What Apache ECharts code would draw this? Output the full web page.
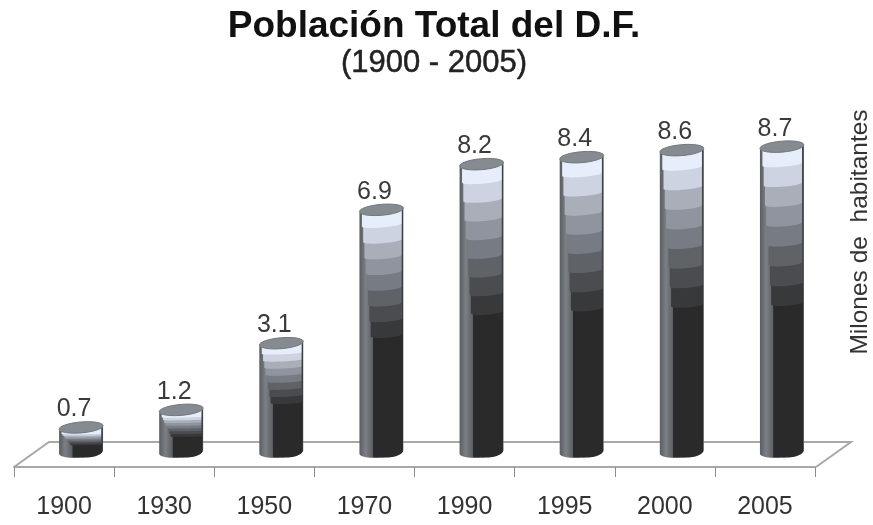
<!DOCTYPE html>
<html>
<head>
<meta charset="utf-8">
<style>html,body{margin:0;padding:0;background:#fff}#main{width:873px;height:525px}</style>
<script src="https://cdn.jsdelivr.net/npm/echarts@6/dist/echarts.min.js"></script>
</head>
<body>
<div id="main"></div>
<script>
var years = ['1900', '1930', '1950', '1970', '1990', '1995', '2000', '2005'];
var poblacion = [0.7, 1.2, 3.1, 6.9, 8.2, 8.4, 8.6, 8.7];
//franjas del cilindro, de la mas clara a la mas oscura
var bandas = ['#e6eefb', '#cdd3e0', '#a9aeb9', '#90949e', '#777b83', '#5f6267', '#4a4c50', '#38393b'];

var chart = echarts.init(document.getElementById('main'));

//puntos de un arco de elipse inclinada
function arco(cx, cy, rx, ry, a0, a1, incl) {
  var pts = [];
  for (var i = 0; i <= 24; i++) {
    var t = a0 + (a1 - a0) * i / 24;
    var c = Math.cos(t);
    pts.push([cx + rx * c, cy + ry * Math.sin(t) - rx * c * (incl === undefined ? 0.08 : incl)]);
  }
  return pts;
}

function cilindro(params, api) {
  var p = api.coord([api.value(0), api.value(1)]);
  var base = api.coord([api.value(0), 0]);
  //desplazamiento de la perspectiva respecto al eje
  var cx = p[0] + 17, top = p[1] - 15, bottom = base[1] - 15;
  var rx = 22, ry = 5.5, h = bottom - top;
  var children = [];

  //cuerpo con la franja gris de la izquierda
  children.push({
    type: 'polygon',
    shape: { points: arco(cx, top, rx, ry, Math.PI, 0).concat(arco(cx, bottom, rx, ry, 0, Math.PI)) },
    style: {
      fill: new echarts.graphic.LinearGradient(0, 0, 1, 0, [
        { offset: 0, color: '#5a5d61' },
        { offset: 0.14, color: '#7b8085' },
        { offset: 0.3, color: '#5c5f63' },
        { offset: 0.31, color: '#2b2b2b' },
        { offset: 0.93, color: '#2a2a2a' },
        { offset: 1, color: '#808488' }
      ])
    }
  });
  //parte negra
  children.push({
    type: 'polygon',
    shape: { points: arco(cx + 7, top, rx - 7.5, ry, Math.PI, 0).concat(arco(cx + 7, bottom, rx - 7.5, ry, 0, Math.PI)) },
    style: { fill: '#2a2a2a' }
  });
  //franjas, de abajo hacia arriba para que se tapen
  var sag = Math.min(2.5, h * 0.012);
  for (var i = bandas.length - 1; i >= 0; i--) {
    var y = top + ry + h * 0.04 + h * 0.065 * i;
    var izq = 2.5 + i * 1.25;
    var der = i < 6 ? 2 : 1;
    var w = (2 * rx - izq - der) / 2;
    var c = cx - rx + izq + w;
    children.push({
      type: 'polygon',
      shape: { points: arco(c, top, w, ry, Math.PI, 0).concat(arco(c, y, w, sag, 0, Math.PI, sag * 0.032)) },
      style: { fill: bandas[i] }
    });
  }
  //tapa
  children.push({
    type: 'polygon',
    shape: { points: arco(cx, top, rx, ry, 0, Math.PI * 2) },
    style: { fill: '#858b91', stroke: '#73787d', lineWidth: 1 }
  });
  //valor
  children.push({
    type: 'text',
    style: {
      text: api.value(1).toFixed(1),
      x: cx - 7,
      y: top - 18,
      align: 'center',
      verticalAlign: 'middle',
      fill: '#3a3a3a',
      font: '25px "Liberation Sans"'
    }
  });
  return { type: 'group', children: children };
}

var option = {
  animation: false,
  backgroundColor: '#fff',
  title: {
    text: 'Población Total del D.F.',
    subtext: '(1900 - 2005)',
    left: 429,
    top: 3,
    textAlign: 'center',
    itemGap: 3,
    textStyle: { fontFamily: 'Liberation Sans', fontSize: 37, fontWeight: 'bold', color: '#111' },
    subtextStyle: { fontFamily: 'Liberation Sans', fontSize: 31, color: '#222', textBorderColor: '#222', textBorderWidth: 0.5 }
  },
  grid: { left: 14, right: 58, top: 116, bottom: 58 },
  xAxis: {
    type: 'category',
    data: years,
    axisLine: { show: true, onZero: false, lineStyle: { color: '#a8a8a8', width: 2 } },
    axisTick: { show: true, length: 10, lineStyle: { color: '#8c8c8c', width: 1 } },
    axisLabel: { margin: 28, fontFamily: 'Liberation Sans', fontSize: 25, color: '#333' }
  },
  yAxis: { type: 'value', min: 0, max: 10, show: false },
  graphic: [
    //piso del grafico
    {
      type: 'polyline',
      z: 0,
      shape: { points: [[14, 467], [49, 442], [851, 442], [816, 467]] },
      style: { stroke: '#a8a8a8', lineWidth: 2, fill: null }
    },
    {
      type: 'text',
      z: 5,
      x: 860,
      y: 232,
      rotation: Math.PI / 2,
      style: {
        text: 'Milones de  habitantes',
        align: 'center',
        verticalAlign: 'middle',
        fill: '#333',
        font: '24.5px "Liberation Sans"'
      }
    }
  ],
  series: [{
    type: 'custom',
    clip: false,
    renderItem: cilindro,
    encode: { x: 0, y: 1 },
    data: years.map(function (y, i) { return [i, poblacion[i]]; })
  }]
};
chart.setOption(option);
</script>
</body>
</html>
